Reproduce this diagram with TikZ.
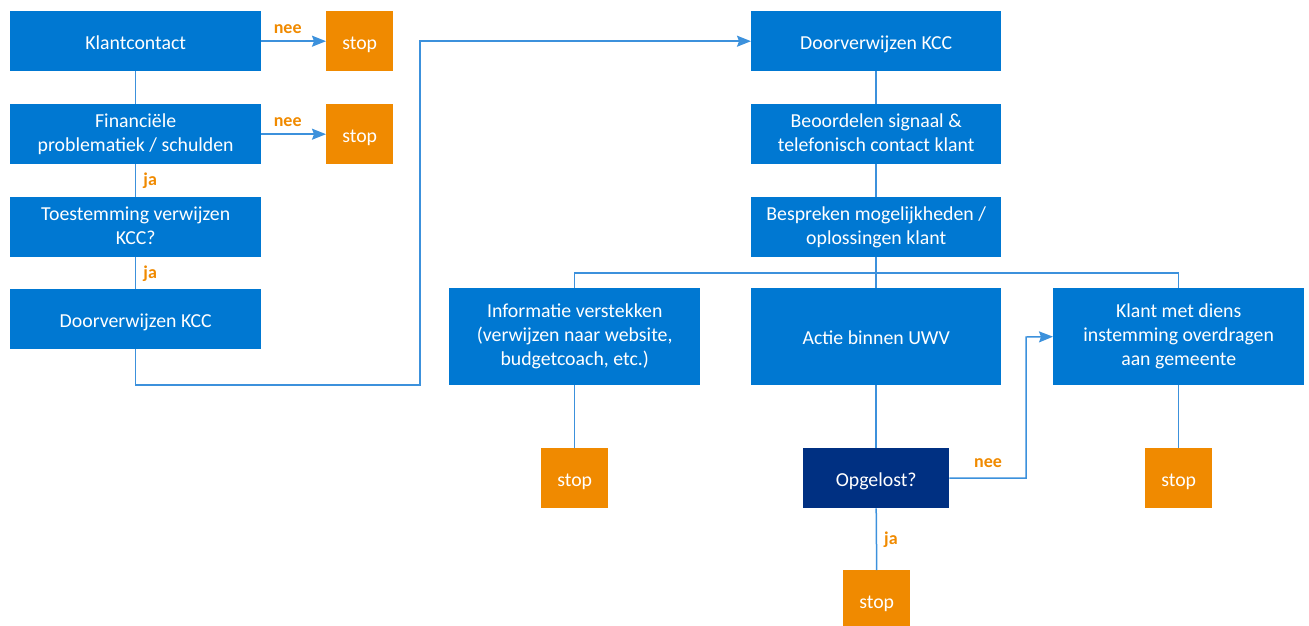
\documentclass[tikz,border=0pt]{standalone}
\usepackage{fontspec}
\setmainfont{Carlito}
\usetikzlibrary{arrows.meta}
\definecolor{uwvblue}{RGB}{0,120,210}
\definecolor{uwvnavy}{RGB}{0,48,130}
\definecolor{uwvorange}{RGB}{240,138,0}
\definecolor{linecol}{RGB}{60,145,220}
\newcommand{\boxstrut}{\rule[-4pt]{0pt}{24pt}}
\tikzset{
  box/.style={fill=uwvblue, text=white, inner sep=0pt, align=center,
    font=\fontsize{19.8}{24}\selectfont, anchor=north west,
    execute at begin node=\boxstrut, execute at end node=\boxstrut},
  stopbox/.style={box, fill=uwvorange, minimum width=67pt, minimum height=60pt},
  darkbox/.style={box, fill=uwvnavy},
  conn/.style={draw=linecol, line width=1.5pt},
  arr/.style={conn, -{Stealth[length=14pt,width=11pt,inset=2pt]}, },
  lab/.style={text=uwvorange, font=\fontsize{18}{20}\selectfont\bfseries, inner sep=0pt}
}
\begin{document}
\begin{tikzpicture}[x=1pt,y=-1pt]
\useasboundingbox (0,0) rectangle (1309,625);
% left column
\node[box, minimum width=251pt, minimum height=60pt] (kc) at (10,11) {Klantcontact};
\node[box, minimum width=251pt, minimum height=60pt] (fin) at (10,104) {Financiële\\problematiek / schulden};
\node[box, minimum width=251pt, minimum height=60pt] (toe) at (10,197) {Toestemming verwijzen\\KCC?};
\node[box, minimum width=251pt, minimum height=60pt] (door1) at (10,289) {Doorverwijzen KCC};
\node[stopbox] (s1) at (326,11) {stop};
\node[stopbox] (s2) at (326,104) {stop};
% right column
\node[box, minimum width=250pt, minimum height=60pt] (door2) at (751,11) {Doorverwijzen KCC};
\node[box, minimum width=250pt, minimum height=60pt] (beo) at (751,104) {Beoordelen signaal \&\\telefonisch contact klant};
\node[box, minimum width=250pt, minimum height=60pt] (besp) at (751,197) {Bespreken mogelijkheden /\\oplossingen klant};
\node[box, minimum width=251pt, minimum height=97pt] (info) at (449,288) {Informatie verstekken\\(verwijzen naar website,\\budgetcoach, etc.)};
\node[box, minimum width=250pt, minimum height=97pt] (actie) at (751,288) {Actie binnen UWV};
\node[box, minimum width=251pt, minimum height=97pt] (klant) at (1053,288) {Klant met diens\\instemming overdragen\\aan gemeente};
\node[stopbox] (sa) at (541,448) {stop};
\node[darkbox, minimum width=146pt, minimum height=60pt] (opg) at (803,448) {Opgelost?};
\node[stopbox] (sc) at (1145,448) {stop};
\node[stopbox] (sd) at (843,570) {stop};
% coordinates
\coordinate (c1) at (420,385);
\coordinate (br) at (876,273);
\coordinate (nb) at (1026,337);
% connectors left
\draw[arr] (kc.east) -- (s1.west) node[lab, midway, above=7pt, xshift=-6pt] {nee};
\draw[arr] (fin.east) -- (s2.west) node[lab, midway, above=7pt, xshift=-6pt] {nee};
\draw[conn] (kc.south) -- (fin.north);
\draw[conn] (fin.south) -- (toe.north) node[lab, midway, right=7pt] {ja};
\draw[conn] (toe.south) -- (door1.north) node[lab, midway, right=7pt] {ja};
\draw[arr] (door1.south) |- (c1) |- (door2.west);
% connectors right
\draw[conn] (door2.south) -- (beo.north);
\draw[conn] (beo.south) -- (besp.north);
\draw[conn] (besp.south) -- (actie.north);
\draw[conn] (info.north) |- (br) -| (klant.north);
\draw[conn] (info.south) -- (sa.north);
\draw[conn] (actie.south) -- (opg.north);
\draw[conn] (klant.south) -- (sc.north);
\draw[conn] (opg.south) -- (sd.north) node[lab, midway, right=7pt] {ja};
\draw[arr] (opg.east) -| (nb) -- (klant.west);
\node[lab] (neeb) at (988,463) {nee};
\end{tikzpicture}
\end{document}
